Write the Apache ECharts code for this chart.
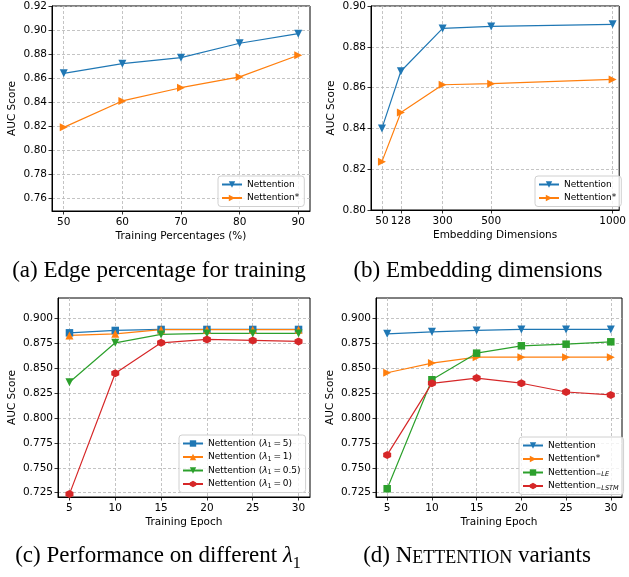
<!DOCTYPE html>
<html><head><meta charset="utf-8">
<script src="https://cdn.jsdelivr.net/npm/echarts@6/dist/echarts.min.js"></script>
<style>html,body{margin:0;padding:0;background:#fff}#c{width:629px;height:577px}</style>
</head><body><div id="c"></div>
<script>
// ---------- Panel (a): Edge percentage for training ----------
const aX = [50, 60, 70, 80, 90];
const aNettention = [0.864, 0.872, 0.877, 0.889, 0.897];
const aNettentionStar = [0.819, 0.841, 0.852, 0.861, 0.879];
const aYTicks = [0.76, 0.78, 0.80, 0.82, 0.84, 0.86, 0.88, 0.90, 0.92];

// ---------- Panel (b): Embedding dimensions ----------
const bX = [50, 128, 300, 500, 1000];
const bNettention = [0.840, 0.868, 0.889, 0.890, 0.891];
const bNettentionStar = [0.8237, 0.8478, 0.8614, 0.8619, 0.864];
const bYTicks = [0.80, 0.82, 0.84, 0.86, 0.88, 0.90];

// ---------- Panel (c): different lambda_1 ----------
const epochs = [5, 10, 15, 20, 25, 30];
const cLambda5 = [0.8856, 0.888, 0.889, 0.889, 0.889, 0.889];
const cLambda1 = [0.883, 0.8846, 0.8888, 0.8888, 0.8888, 0.8888];
const cLambda05 = [0.836, 0.8756, 0.884, 0.885, 0.885, 0.885];
const cLambda0 = [0.7236, 0.845, 0.8756, 0.879, 0.878, 0.877];
const cLambdaLabels = ['5', '1', '0.5', '0'];

// ---------- Panel (d): variants ----------
const dNettention = [0.8846, 0.8866, 0.888, 0.889, 0.889, 0.889];
const dNettentionStar = [0.8455, 0.8552, 0.8612, 0.8612, 0.8612, 0.8612];
const dLE = [0.729, 0.8385, 0.8652, 0.8726, 0.8742, 0.8766];
const dLSTM = [0.763, 0.8349, 0.8402, 0.835, 0.8262, 0.8232];
const epochYTicks = [0.725, 0.750, 0.775, 0.800, 0.825, 0.850, 0.875, 0.900];

const captions = ['(a) Edge percentage for training', '(b) Embedding dimensions',
  '(c) Performance on different {i|λ}{sub|1}', '(d) {n|N}{sc|ETTENTION} variants'];

const BLUE = '#1f77b4', ORANGE = '#ff7f0e', GREEN = '#2ca02c', RED = '#d62728';
const HEX = 'path://M0,-1L0.866,-0.5L0.866,0.5L0,1L-0.866,0.5L-0.866,-0.5Z';
const FONT = 'DejaVu Sans';

const chart = echarts.init(document.getElementById('c'), null, {renderer: 'canvas'});

function gridDef(left, top, width, height) {
  return {left, top, width, height, show: true, borderColor: '#000', borderWidth: 1, backgroundColor: 'transparent'};
}
const split = {show: true, lineStyle: {color: '#b5b5b5', type: [3, 2], width: 0.8}};
function mkAxis(gridIndex, min, max, ticks, fmt, name, nameGap, vertical) {
  return {
    type: 'value', gridIndex, min, max,
    name, nameLocation: 'middle', nameGap,
    nameTextStyle: {fontFamily: FONT, fontSize: 10.5, color: '#000'},
    axisLine: {show: true, onZero: false, lineStyle: {color: '#000', width: 1}},
    axisTick: {show: true, customValues: ticks, length: 3.5, lineStyle: {color: '#000', width: 0.8}},
    axisLabel: {customValues: ticks, formatter: fmt, fontFamily: FONT, fontSize: 10.5, color: '#000', margin: vertical ? 5 : 6},
    splitLine: split
  };
}
const f2 = v => v.toFixed(2), f3 = v => v.toFixed(3), f0 = v => String(Math.round(v));
const pairs = (xs, ys) => xs.map((x, i) => [x, ys[i]]);
function line(name, gi, xs, ys, color, symbol, rot, size) {
  return {
    type: 'line', name, xAxisIndex: gi, yAxisIndex: gi, data: pairs(xs, ys),
    symbol, symbolSize: size, symbolRotate: rot,
    lineStyle: {color, width: 1.2}, itemStyle: {color},
    showSymbol: true, animation: false, z: 3
  };
}
const lamNames = cLambdaLabels.map(l => 'Nettention (λ1 = ' + l + ')');
const legendBase = {
  orient: 'vertical', itemWidth: 20, itemHeight: 8, itemGap: 2.5,
  padding: [3, 5, 3, 3], backgroundColor: 'rgba(255,255,255,0.8)',
  borderColor: '#d0d0d0', borderWidth: 1, borderRadius: 3,
  textStyle: {fontFamily: FONT, fontSize: 9, color: '#000', lineHeight: 11,
    rich: {
      i: {fontFamily: FONT, fontSize: 9, fontStyle: 'italic', lineHeight: 11},
      s: {fontFamily: FONT, fontSize: 6.5, lineHeight: 5, verticalAlign: 'bottom'},
      sub: {fontFamily: FONT, fontSize: 6.5, fontStyle: 'italic', lineHeight: 5, verticalAlign: 'bottom'}
    }}
};
function legendFmt(name) {
  const li = lamNames.indexOf(name);
  if (li >= 0) return 'Nettention ({i|λ}{s|1}\u2009=\u2009' + cLambdaLabels[li] + ')';
  if (name === 'Nettention-LE') return 'Nettention{sub|−LE}';
  if (name === 'Nettention-LSTM') return 'Nettention{sub|−LSTM}';
  return name;
}
const capRich = {
  i: {fontFamily: 'Liberation Serif', fontSize: 23, fontStyle: 'italic'},
  sub: {fontFamily: 'Liberation Serif', fontSize: 16, lineHeight: 31, verticalAlign: 'bottom'},
  n: {fontFamily: 'Liberation Serif', fontSize: 23, lineHeight: 23, verticalAlign: 'bottom'},
  sc: {fontFamily: 'Liberation Serif', fontSize: 18, lineHeight: 22, verticalAlign: 'bottom'}
};
function cap(text, x, y) {
  return {type: 'text', x, y, style: {text, fill: '#000', font: '23px "Liberation Serif"',
    align: 'center', verticalAlign: 'middle', rich: capRich}};
}

const option = {
  backgroundColor: '#fff',
  animation: false,
  grid: [gridDef(52, 6, 258, 205), gridDef(371, 6, 251, 204), gridDef(58, 298, 252, 199), gridDef(376, 298, 246, 199)],
  xAxis: [
    mkAxis(0, 48, 92, aX, f0, 'Training Percentages (%)', 20, false),
    mkAxis(1, 5, 1027, bX, f0, 'Embedding Dimensions', 20, false),
    mkAxis(2, 3.75, 31.25, epochs, f0, 'Training Epoch', 20, false),
    mkAxis(3, 3.75, 31.25, epochs, f0, 'Training Epoch', 20, false)
  ],
  yAxis: [
    mkAxis(0, 0.7494, 0.92, aYTicks, f2, 'AUC Score', 34, true),
    mkAxis(1, 0.80, 0.90, bYTicks, f2, 'AUC Score', 34, true),
    mkAxis(2, 0.7207, 0.9206, epochYTicks, f3, 'AUC Score', 40, true),
    mkAxis(3, 0.7207, 0.9206, epochYTicks, f3, 'AUC Score', 40, true)
  ],
  legend: [
    Object.assign({}, legendBase, {left: 218, top: 176, data: ['Nettention', 'Nettention*'], formatter: legendFmt}),
    Object.assign({}, legendBase, {left: 535, top: 176, data: ['Nettention', 'Nettention*'], formatter: legendFmt}),
    Object.assign({}, legendBase, {left: 179, top: 435, data: lamNames, formatter: legendFmt}),
    Object.assign({}, legendBase, {left: 519, top: 437, data: ['Nettention', 'Nettention*', 'Nettention-LE', 'Nettention-LSTM'], formatter: legendFmt})
  ],
  series: [
    line('Nettention', 0, aX, aNettention, BLUE, 'triangle', 180, 8),
    line('Nettention*', 0, aX, aNettentionStar, ORANGE, 'triangle', -90, 8),
    line('Nettention', 1, bX, bNettention, BLUE, 'triangle', 180, 8),
    line('Nettention*', 1, bX, bNettentionStar, ORANGE, 'triangle', -90, 8),
    line(lamNames[0], 2, epochs, cLambda5, BLUE, 'rect', 0, 7.5),
    line(lamNames[1], 2, epochs, cLambda1, ORANGE, 'triangle', 0, 8),
    line(lamNames[2], 2, epochs, cLambda05, GREEN, 'triangle', 180, 8),
    line(lamNames[3], 2, epochs, cLambda0, RED, HEX, 0, 8),
    line('Nettention', 3, epochs, dNettention, BLUE, 'triangle', 180, 8),
    line('Nettention*', 3, epochs, dNettentionStar, ORANGE, 'triangle', -90, 8),
    line('Nettention-LE', 3, epochs, dLE, GREEN, 'rect', 0, 7.5),
    line('Nettention-LSTM', 3, epochs, dLSTM, RED, HEX, 0, 8)
  ],
  graphic: [cap(captions[0], 159, 271), cap(captions[1], 478, 271), cap(captions[2], 158, 556), cap(captions[3], 477, 556)]
};
chart.setOption(option);
</script></body></html>
